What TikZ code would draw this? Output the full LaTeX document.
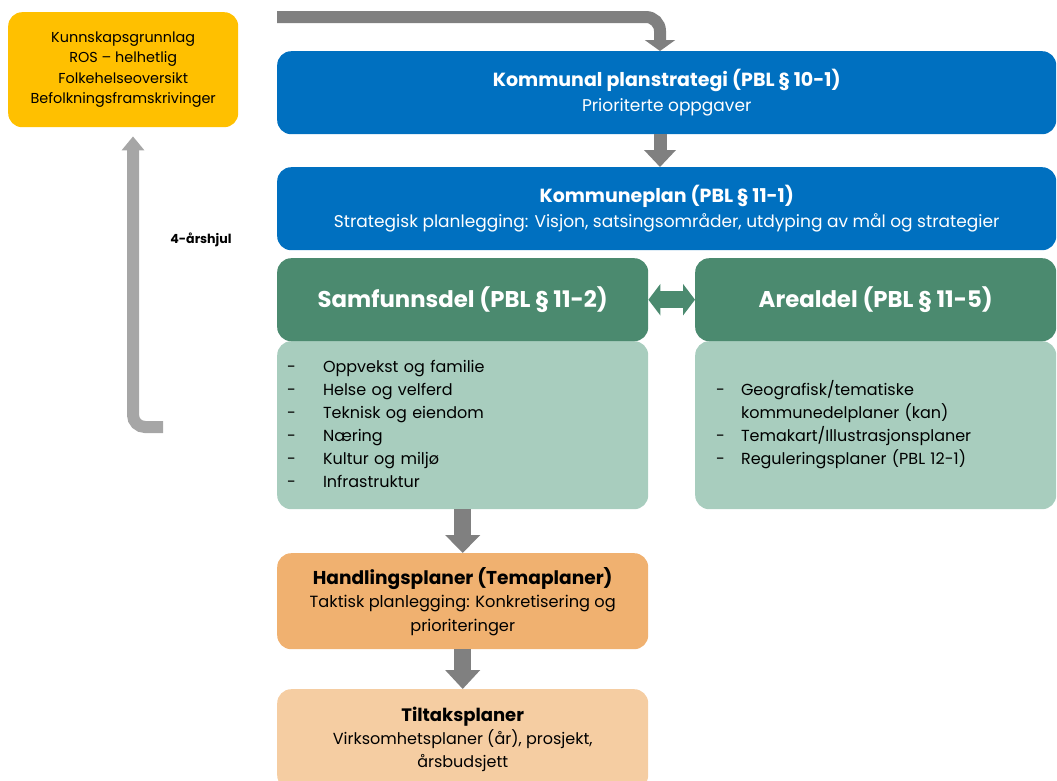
\documentclass[tikz,border=0pt]{standalone}
\usepackage{fontspec}
\setmainfont{Poppins}
\usetikzlibrary{arrows.meta,calc}
\definecolor{cblue}{HTML}{0070C0}
\definecolor{cyellow}{HTML}{FFC000}
\definecolor{cgreenD}{HTML}{4B8A6F}
\definecolor{cgreenL}{HTML}{A8CDBE}
\definecolor{corange}{HTML}{F0B170}
\definecolor{corangeL}{HTML}{F5CDA2}
\definecolor{cgrayD}{HTML}{808080}
\definecolor{cgrayL}{HTML}{A6A6A6}
\begin{document}
\begin{tikzpicture}[x=1pt,y=-1pt,
  box/.style={rounded corners=14pt, inner sep=0pt, anchor=north west, align=center},
  bluebox/.style={box, fill=cblue, text=white, minimum width=779pt, minimum height=83pt, font=\fontsize{17}{25}\selectfont},
  greenbox/.style={box, fill=cgreenD, text=white, minimum height=83pt, font=\bfseries\fontsize{22.8}{28}\selectfont},
  listbox/.style={box, fill=cgreenL, text=black, minimum height=168pt, align=left, font=\fontsize{16}{23}\selectfont},
  gshaft/.style={draw=cgrayD, line width=#1},
]
\useasboundingbox (0,0) rectangle (1057,780);

% boxes
\node[box, fill=cyellow, minimum width=230pt, minimum height=115pt, font=\fontsize{14.4}{20.5}\selectfont] (kg) at (8,12)
  {Kunnskapsgrunnlag\\ROS – helhetlig\\Folkehelseoversikt\\Befolkningsframskrivinger};

\node[bluebox] (kps) at (277,51)
  {{\bfseries\fontsize{19}{25}\selectfont Kommunal planstrategi (PBL § 10-1)}\\Prioriterte oppgaver};
\node[bluebox] (kp) at (277,167)
  {{\bfseries\fontsize{19}{25}\selectfont Kommuneplan (PBL § 11-1)}\\Strategisk planlegging: Visjon, satsingsområder, utdyping av mål og strategier};

\node[listbox, minimum width=371pt, text width=351pt, inner xsep=10pt] (samfl) at (277,341)
  {\begin{tabular}{@{}l@{\hspace{27pt}}l@{}}
   - & Oppvekst og familie\\
   - & Helse og velferd\\
   - & Teknisk og eiendom\\
   - & Næring\\
   - & Kultur og miljø\\
   - & Infrastruktur
   \end{tabular}};
\node[listbox, minimum width=361pt, text width=319pt, inner xsep=21pt] (areall) at (695,341)
  {\begin{tabular}{@{}l@{\hspace{16pt}}l@{}}
   - & Geografisk/tematiske\\
     & kommunedelplaner (kan)\\
   - & Temakart/Illustrasjonsplaner\\
   - & Reguleringsplaner (PBL 12-1)
   \end{tabular}};

\node[greenbox, minimum width=371pt] (samf) at (277,258) {Samfunnsdel (PBL § 11-2)};
\node[greenbox, minimum width=361pt] (areal) at (695,258) {Arealdel (PBL § 11-5)};

\node[box, fill=corange, minimum width=371pt, minimum height=96pt, font=\fontsize{16.2}{23.5}\selectfont] (hp) at (277,553)
  {{\bfseries\fontsize{18.6}{24}\selectfont Handlingsplaner (Temaplaner)}\\Taktisk planlegging: Konkretisering og\\prioriteringer};
\node[box, fill=corangeL, minimum width=371pt, minimum height=100pt, font=\fontsize{16}{23}\selectfont] (tp) at (277,689)
  {{\bfseries\fontsize{18}{24}\selectfont Tiltaksplaner}\\Virksomhetsplaner (år), prosjekt,\\årsbudsjett};

\node[font=\bfseries\fontsize{12.6}{15}\selectfont] (lbl) at (201,240) {4-årshjul};

% connectors
\coordinate (ax) at (660,0);
\coordinate (ts) at (277,17);
\coordinate (ls) at (163,427);
\coordinate (lx) at (133,0);

\draw[gshaft=12pt, rounded corners=14pt, -{Triangle[width=30pt,length=11pt]}] (ts) -| (kps.north -| ax);
\draw[gshaft=13pt, -{Triangle[width=31pt,length=17pt]}] (kps.south -| ax) -- (kp.north -| ax);
\draw[gshaft=17pt, -{Triangle[width=34pt,length=18pt]}] (samfl.south) -- (hp.north);
\draw[gshaft=17pt, -{Triangle[width=34pt,length=19pt]}] (hp.south) -- (tp.north);
\draw[draw=cgrayL, line width=12pt, rounded corners=12pt, shorten >=9pt, -{Triangle[width=22pt,length=14pt]}] (ls) -| (kg.south -| lx);
\draw[draw=cgreenD, line width=17pt, {Triangle[width=31pt,length=12pt]}-{Triangle[width=31pt,length=12pt]}] (samf.east) -- (areal.west);
\end{tikzpicture}
\end{document}
